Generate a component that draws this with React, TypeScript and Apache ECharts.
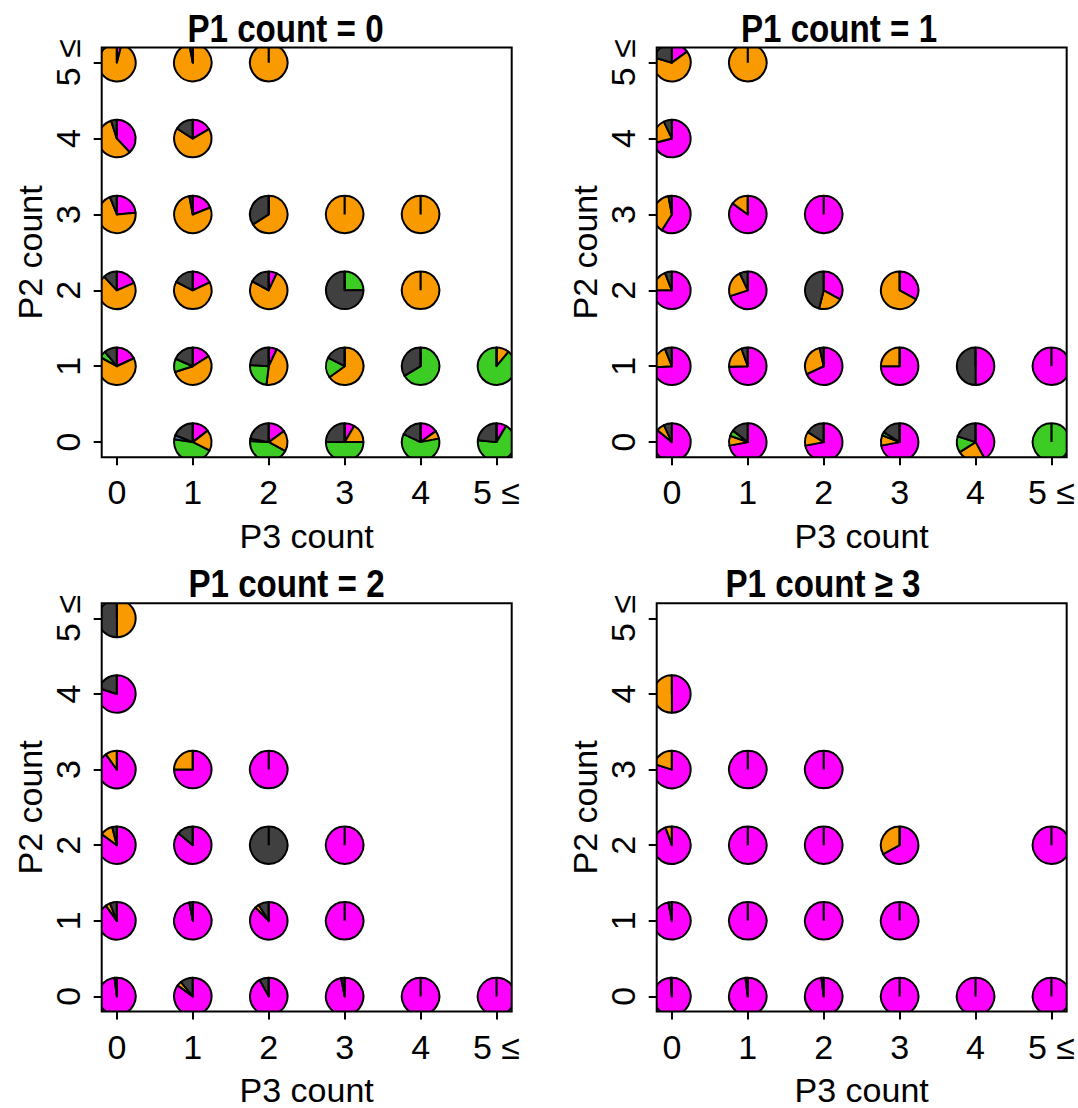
import React, { useEffect, useRef } from "react";
import * as echarts from "echarts";

// slice order (clockwise from 12 o'clock)
const sliceNames = ["magenta", "orange", "green", "blue", "gray"];
const sliceColors = ["#FF00FF", "#F99A00", "#3DCC24", "#3A86B8", "#404040"];

const tickValues = [0, 1, 2, 3, 4, 5];
const tickLabels = ["0", "1", "2", "3", "4", "5 ≤"];
const panelTitles = ["P1 count = 0", "P1 count = 1", "P1 count = 2", "P1 count ≥ 3"];
const xName = "P3 count";
const yName = "P2 count";

// [P3 count, P2 count, magenta, orange, green, blue, gray]
const panelP1eq0 = [
  [0, 5, 0.04, 0.96, 0, 0, 0],
  [1, 5, 0, 0.97, 0, 0, 0.03],
  [2, 5, 0, 1, 0, 0, 0],
  [0, 4, 0.38, 0.57, 0, 0, 0.05],
  [1, 4, 0.165, 0.675, 0, 0, 0.16],
  [0, 3, 0.235, 0.705, 0, 0, 0.06],
  [1, 3, 0.19, 0.78, 0, 0, 0.03],
  [2, 3, 0, 0.66, 0, 0, 0.34],
  [3, 3, 0, 1, 0, 0, 0],
  [4, 3, 0, 1, 0, 0, 0],
  [0, 2, 0.185, 0.695, 0, 0, 0.12],
  [1, 2, 0.18, 0.645, 0, 0, 0.175],
  [2, 2, 0.07, 0.76, 0, 0, 0.17],
  [3, 2, 0, 0, 0.25, 0, 0.75],
  [4, 2, 0, 1, 0, 0, 0],
  [0, 1, 0.18, 0.65, 0.06, 0, 0.11],
  [1, 1, 0.16, 0.54, 0.115, 0, 0.185],
  [2, 1, 0.07, 0.45, 0.24, 0, 0.24],
  [3, 1, 0, 0.65, 0.175, 0, 0.175],
  [4, 1, 0, 0, 0.665, 0, 0.335],
  [5, 1, 0, 0.11, 0.89, 0, 0],
  [1, 0, 0.145, 0.18, 0.45, 0.035, 0.19],
  [2, 0, 0.15, 0.18, 0.43, 0.02, 0.22],
  [3, 0, 0.085, 0.165, 0.5, 0, 0.25],
  [4, 0, 0.15, 0.07, 0.6, 0, 0.18],
  [5, 0, 0.085, 0, 0.68, 0, 0.235],
];

const panelP1eq1 = [
  [0, 5, 0.15, 0.645, 0, 0, 0.205],
  [1, 5, 0, 1, 0, 0, 0],
  [0, 4, 0.71, 0.22, 0, 0, 0.07],
  [0, 3, 0.59, 0.38, 0, 0, 0.03],
  [1, 3, 0.85, 0.15, 0, 0, 0],
  [2, 3, 1, 0, 0, 0, 0],
  [0, 2, 0.75, 0.19, 0, 0, 0.06],
  [1, 2, 0.7, 0.23, 0, 0, 0.07],
  [2, 2, 0.33, 0.21, 0, 0, 0.46],
  [3, 2, 0.33, 0.67, 0, 0, 0],
  [0, 1, 0.74, 0.2, 0, 0, 0.06],
  [1, 1, 0.745, 0.2, 0, 0, 0.055],
  [2, 1, 0.68, 0.285, 0, 0, 0.035],
  [3, 1, 0.75, 0.25, 0, 0, 0],
  [4, 1, 0.5, 0, 0, 0, 0.5],
  [5, 1, 1, 0, 0, 0, 0],
  [0, 0, 0.86, 0.07, 0, 0, 0.07],
  [1, 0, 0.72, 0.085, 0.05, 0, 0.145],
  [2, 0, 0.72, 0.12, 0, 0, 0.16],
  [3, 0, 0.72, 0.09, 0.03, 0, 0.16],
  [4, 0, 0.42, 0.24, 0.14, 0, 0.2],
  [5, 0, 0, 0, 1, 0, 0],
];

const panelP1eq2 = [
  [0, 5, 0, 0.5, 0, 0, 0.5],
  [0, 4, 0.8, 0, 0, 0, 0.2],
  [0, 3, 0.9, 0.1, 0, 0, 0],
  [1, 3, 0.75, 0.25, 0, 0, 0],
  [2, 3, 1, 0, 0, 0, 0],
  [0, 2, 0.85, 0.11, 0, 0, 0.04],
  [1, 2, 0.86, 0, 0, 0, 0.14],
  [2, 2, 0, 0, 0, 0, 1],
  [3, 2, 1, 0, 0, 0, 0],
  [0, 1, 0.9, 0.04, 0, 0, 0.06],
  [1, 1, 0.97, 0, 0, 0, 0.03],
  [2, 1, 0.875, 0.035, 0, 0, 0.09],
  [3, 1, 1, 0, 0, 0, 0],
  [0, 0, 0.98, 0, 0, 0, 0.02],
  [1, 0, 0.85, 0.04, 0, 0, 0.11],
  [2, 0, 0.92, 0, 0, 0, 0.08],
  [3, 0, 0.97, 0, 0, 0, 0.03],
  [4, 0, 1, 0, 0, 0, 0],
  [5, 0, 1, 0, 0, 0, 0],
];

const panelP1ge3 = [
  [0, 4, 0.5, 0.5, 0, 0, 0],
  [0, 3, 0.8, 0.2, 0, 0, 0],
  [1, 3, 1, 0, 0, 0, 0],
  [2, 3, 1, 0, 0, 0, 0],
  [0, 2, 0.945, 0.055, 0, 0, 0],
  [1, 2, 1, 0, 0, 0, 0],
  [2, 2, 1, 0, 0, 0, 0],
  [3, 2, 0.67, 0.33, 0, 0, 0],
  [5, 2, 1, 0, 0, 0, 0],
  [0, 1, 0.97, 0, 0, 0, 0.03],
  [1, 1, 1, 0, 0, 0, 0],
  [2, 1, 1, 0, 0, 0, 0],
  [3, 1, 1, 0, 0, 0, 0],
  [0, 0, 0.99, 0, 0, 0, 0.01],
  [1, 0, 0.98, 0, 0, 0, 0.02],
  [2, 0, 0.98, 0, 0, 0, 0.02],
  [3, 0, 1, 0, 0, 0, 0],
  [4, 0, 1, 0, 0, 0, 0],
  [5, 0, 1, 0, 0, 0, 0],
];

const panels = [panelP1eq0, panelP1eq1, panelP1eq2, panelP1ge3];

const PIE_R = 0.247; // pie radius in axis units
const LABEL_FONT = "'Liberation Sans', Arial, sans-serif";

const gridBoxes = [
  { left: 101.7, top: 47.5, width: 410, height: 409.8 },
  { left: 656.7, top: 47.5, width: 410.6, height: 409.8 },
  { left: 101.7, top: 603.3, width: 410, height: 408.5 },
  { left: 656.7, top: 603.3, width: 410.6, height: 408.5 },
];
// title anchor: horizontal centre and bottom of the text box
const titlePos = [
  { x: 285.5, y: 48 },
  { x: 839, y: 48 },
  { x: 286.5, y: 603.5 },
  { x: 823, y: 603.5 },
];

const renderPie = (params: any, api: any) => {
  const c = api.coord([api.value(0), api.value(1)]);
  const r = api.size([PIE_R, 0])[0];
  const vals = [2, 3, 4, 5, 6].map((i) => Number(api.value(i)) || 0);
  const total = vals.reduce((a, b) => a + b, 0);
  let a = -Math.PI / 2;
  const children: any[] = [];
  vals.forEach((v, i) => {
    if (v <= 0) return;
    const span = (v / total) * Math.PI * 2;
    children.push({
      type: "sector",
      shape: { cx: c[0], cy: c[1], r, r0: 0, startAngle: a, endAngle: a + span, clockwise: true },
      style: { fill: sliceColors[i], stroke: "#000", lineWidth: 2, lineJoin: "round" },
    });
    a += span;
  });
  children.push({
    type: "line",
    shape: { x1: c[0], y1: c[1], x2: c[0], y2: c[1] - r },
    style: { stroke: "#000", lineWidth: 2.2 },
  });
  return { type: "group", children };
};

export default function App() {
  const ref = useRef<HTMLDivElement>(null);
  useEffect(() => {
    document.body.style.margin = "0";
    if (!ref.current) return;
    const chart = echarts.init(ref.current, null, { renderer: "svg" });
    const labelFmt = (v: number) => tickLabels[tickValues.indexOf(Math.round(v))] ?? "";
    const axisCommon = (i: number) => ({
      gridIndex: i,
      type: "value",
      min: -0.2,
      max: 5.2,
      axisLine: { show: false, onZero: false },
      splitLine: { show: false },
      axisTick: {
        show: true,
        length: 8,
        customValues: tickValues,
        lineStyle: { color: "#000", width: 2 },
      },
      nameLocation: "middle",
      nameTextStyle: { fontSize: 34, color: "#000", fontFamily: LABEL_FONT },
    });
    const option: any = {
      animation: false,
      backgroundColor: "#fff",
      graphic: panelTitles.map((t, i) => ({
        type: "text",
        x: titlePos[i].x,
        y: titlePos[i].y,
        scaleX: 0.85,
        style: {
          text: t,
          fill: "#000",
          font: "bold 39px 'Liberation Sans', Arial, sans-serif",
          textAlign: "center",
          textVerticalAlign: "bottom",
        },
      })),
      grid: gridBoxes.map((g) => ({
        ...g,
        show: true,
        z: 10,
        borderColor: "#000",
        borderWidth: 2,
        backgroundColor: "transparent",
        containLabel: false,
      })),
      xAxis: gridBoxes.map((_, i) => ({
        ...axisCommon(i),
        position: "bottom",
        name: xName,
        nameGap: 61.5,
        axisLabel: {
          customValues: tickValues,
          margin: 18,
          fontSize: 34,
          color: "#000",
          fontFamily: LABEL_FONT,
          hideOverlap: false,
          formatter: labelFmt,
        },
      })),
      yAxis: gridBoxes.map((_, i) => ({
        ...axisCommon(i),
        position: "left",
        name: yName,
        nameGap: 55,
        axisLabel: {
          customValues: tickValues,
          rotate: 90,
          margin: 16.5,
          fontSize: 34,
          color: "#000",
          fontFamily: LABEL_FONT,
          hideOverlap: false,
          formatter: labelFmt,
        },
      })),
      series: panels.map((data, i) => ({
        type: "custom",
        name: panelTitles[i],
        xAxisIndex: i,
        yAxisIndex: i,
        clip: true,
        silent: true,
        dimensions: ["P3", "P2", ...sliceNames],
        encode: { x: 0, y: 1 },
        data,
        renderItem: renderPie,
      })),
    };
    chart.setOption(option);
    return () => chart.dispose();
  }, []);
  return <div ref={ref} style={{ width: 1078, height: 1108 }} />;
}
